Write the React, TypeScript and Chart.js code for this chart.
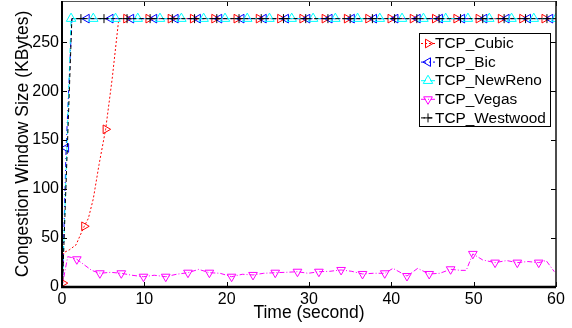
import { useEffect, useRef } from 'react';
import { Chart, registerables } from 'chart.js';

Chart.register(...registerables);

const FONT = "'Liberation Sans', Arial, Helvetica, sans-serif";

// ---------------- data ----------------
const seriesNames = ['TCP_Cubic', 'TCP_Bic', 'TCP_NewReno', 'TCP_Vegas', 'TCP_Westwood'];

const xTicks = [0, 10, 20, 30, 40, 50, 60];
const yTicks = [0, 50, 100, 150, 200, 250];

// TCP_Cubic
const cubicPathT = [0.1, 0.2, 0.9, 1.7, 2.7, 3.2, 3.8, 4.5, 5.3, 6.1, 6.9, 60];
const cubicPathY = [4, 35, 38, 43, 62, 70, 90, 125, 161, 213, 274, 274];
const cubicMarkT = [0.1, 2.7, 5.3, 7.8, 10.5, 13.2, 15.9, 18.5, 21.2, 23.9, 26.5, 29.2, 31.9, 34.6, 37.2, 39.9, 42.6, 45.3, 47.9, 50.6, 53.3, 55.9, 58.6];
const cubicMarkY = [4, 62, 161, 274, 274, 274, 274, 274, 274, 274, 274, 274, 274, 274, 274, 274, 274, 274, 274, 274, 274, 274, 274];

// TCP_Bic
const bicPathT = [0.05, 0.5, 1.2, 60];
const bicPathY = [0, 142, 274, 274];
const bicMarkT = [0.5, 3.0, 5.9, 8.4, 11.2, 13.8, 16.5, 19.1, 21.8, 24.5, 27.2, 29.8, 32.5, 35.2, 37.9, 40.5, 43.2, 45.9, 48.6, 51.3, 54.0, 56.6, 59.3];
const bicMarkY = [142, 274, 274, 274, 274, 274, 274, 274, 274, 274, 274, 274, 274, 274, 274, 274, 274, 274, 274, 274, 274, 274, 274];

// TCP_NewReno
const newRenoPathT = [0.05, 1.1, 60];
const newRenoPathY = [0, 274, 274];
const newRenoMarkT = [1.1, 3.8, 6.5, 9.2, 11.9, 14.5, 17.2, 19.8, 22.5, 25.2, 27.9, 30.5, 33.2, 35.9, 38.6, 41.3, 43.9, 46.6, 49.3, 51.9, 54.6, 57.3, 60.0];
const newRenoMarkY = [274, 274, 274, 274, 274, 274, 274, 274, 274, 274, 274, 274, 274, 274, 274, 274, 274, 274, 274, 274, 274, 274, 274];

// TCP_Vegas
const vegasPathT = [0, 0.1, 0.7, 1.2, 1.8, 2.8, 3.6, 4.6, 5.9, 7.2, 8.5, 9.9, 11.2, 12.6, 13.9, 15.3, 16.6, 17.9, 19.2, 20.6, 21.9, 23.2, 24.5, 25.9, 27.2, 28.6, 29.9, 31.2, 32.5, 33.9, 35.2, 36.5, 37.8, 39.2, 40.2, 41.9, 43.2, 44.6, 45.9, 47.2, 48.4, 49.1, 49.9, 51.1, 52.6, 54.0, 55.3, 56.6, 57.9, 58.8, 59.8];
const vegasPathY = [0, 5, 31, 30, 28.3, 22, 17, 14, 15, 14, 12, 10.5, 12, 10.5, 13, 14.6, 18, 14.6, 14, 10.5, 13, 12.3, 14, 14.6, 15, 15.6, 14, 15.6, 16, 17.4, 16, 13.3, 14, 14, 19, 11.2, 19, 13.3, 14, 18.1, 17, 17, 33.8, 27.6, 24.9, 27, 24.9, 26, 24.9, 27, 15.6];
const vegasMarkT = [1.8, 4.6, 7.2, 9.9, 12.6, 15.3, 17.9, 20.6, 23.2, 25.9, 28.6, 31.2, 33.9, 36.5, 39.2, 41.9, 44.6, 47.2, 49.9, 52.6, 55.3, 57.9];
const vegasMarkY = [28.3, 14, 14, 10.5, 10.5, 14.6, 14.6, 10.5, 12.3, 14.6, 15.6, 15.6, 17.4, 13.3, 14, 11.2, 13.3, 18.1, 33.8, 24.9, 24.9, 24.9];

// TCP_Westwood
const westwoodPathT = [0.05, 1.2, 60];
const westwoodPathY = [0, 274, 274];
const westwoodMarkT = [2.3, 5.1, 7.9, 10.7, 13.4, 16.1, 18.8, 21.5, 24.2, 26.9, 29.6, 32.3, 35.0, 37.7, 40.4, 43.1, 45.8, 48.4, 51.1, 53.7, 56.3, 58.9];
const westwoodMarkY = [274, 274, 274, 274, 274, 274, 274, 274, 274, 274, 274, 274, 274, 274, 274, 274, 274, 274, 274, 274, 274, 274];

// ---------------- styles ----------------
type Style = { color: string; dash: number[]; point: 'triangle' | 'cross'; rotation: number; radius: number };
const styles: Style[] = [
  { color: '#ff0000', dash: [2, 2], point: 'triangle', rotation: 90, radius: 5 },
  { color: '#0000ff', dash: [5, 3, 1, 3], point: 'triangle', rotation: 270, radius: 5 },
  { color: '#00ffff', dash: [5, 4], point: 'triangle', rotation: 0, radius: 5.5 },
  { color: '#ff00ff', dash: [5, 2, 1, 2], point: 'triangle', rotation: 180, radius: 5 },
  { color: '#000000', dash: [4, 3], point: 'cross', rotation: 0, radius: 4.5 },
];

const paths = [
  [cubicPathT, cubicPathY],
  [bicPathT, bicPathY],
  [newRenoPathT, newRenoPathY],
  [vegasPathT, vegasPathY],
  [westwoodPathT, westwoodPathY],
];
const marks = [
  [cubicMarkT, cubicMarkY],
  [bicMarkT, bicMarkY],
  [newRenoMarkT, newRenoMarkY],
  [vegasMarkT, vegasMarkY],
  [westwoodMarkT, westwoodMarkY],
];

const zip = (t: number[], y: number[]) => t.map((v, i) => ({ x: v, y: y[i] }));

function drawMarker(ctx: CanvasRenderingContext2D, s: Style, x: number, y: number) {
  ctx.save();
  ctx.strokeStyle = s.color;
  ctx.lineWidth = 1;
  ctx.setLineDash([]);
  ctx.beginPath();
  if (s.point === 'cross') {
    ctx.moveTo(x - s.radius, y);
    ctx.lineTo(x + s.radius, y);
    ctx.moveTo(x, y - s.radius);
    ctx.lineTo(x, y + s.radius);
  } else {
    let rad = (s.rotation * Math.PI) / 180;
    ctx.moveTo(x + Math.sin(rad) * s.radius, y - Math.cos(rad) * s.radius);
    rad += (2 * Math.PI) / 3;
    ctx.lineTo(x + Math.sin(rad) * s.radius, y - Math.cos(rad) * s.radius);
    rad += (2 * Math.PI) / 3;
    ctx.lineTo(x + Math.sin(rad) * s.radius, y - Math.cos(rad) * s.radius);
    ctx.closePath();
  }
  ctx.stroke();
  ctx.restore();
}

const framePlugin = {
  id: 'matlabFrame',
  afterDraw(chart: any) {
    const { ctx, chartArea } = chart;
    const { left, right, top, bottom } = chartArea;
    const xs = chart.scales.x;
    const ys = chart.scales.y;
    ctx.save();
    ctx.setLineDash([]);
    // inward ticks
    ctx.strokeStyle = '#000';
    ctx.lineWidth = 1;
    ctx.beginPath();
    xTicks.forEach((v) => {
      const px = Math.round(xs.getPixelForValue(v)) + 0.5;
      ctx.moveTo(px, bottom);
      ctx.lineTo(px, bottom - 5);
      ctx.moveTo(px, top);
      ctx.lineTo(px, top + 5);
    });
    yTicks.forEach((v) => {
      const py = Math.round(ys.getPixelForValue(v)) + 0.5;
      ctx.moveTo(left, py);
      ctx.lineTo(left + 5, py);
      ctx.moveTo(right, py);
      ctx.lineTo(right - 5, py);
    });
    ctx.stroke();
    // frame
    ctx.strokeStyle = '#555';
    ctx.lineWidth = 1;
    ctx.beginPath();
    ctx.moveTo(left, top + 0.5);
    ctx.lineTo(right, top + 0.5);
    ctx.stroke();
    ctx.strokeStyle = '#111';
    ctx.lineWidth = 1.5;
    ctx.beginPath();
    ctx.moveTo(right, top);
    ctx.lineTo(right, bottom);
    ctx.stroke();
    ctx.strokeStyle = '#000';
    ctx.lineWidth = 2;
    ctx.beginPath();
    ctx.moveTo(left, top);
    ctx.lineTo(left, bottom + 1);
    ctx.stroke();
    ctx.lineWidth = 2.5;
    ctx.beginPath();
    ctx.moveTo(left - 1, bottom);
    ctx.lineTo(right, bottom);
    ctx.stroke();

    // legend
    const bx = 419.5, by = 33.5, bw = 131, bh = 93;
    ctx.fillStyle = '#fff';
    ctx.fillRect(bx, by, bw, bh);
    ctx.strokeStyle = '#000';
    ctx.lineWidth = 1;
    ctx.strokeRect(bx, by, bw, bh);
    ctx.font = `15.4px ${FONT}`;
    ctx.textBaseline = 'middle';
    ctx.textAlign = 'left';
    seriesNames.forEach((name, i) => {
      const s = styles[i];
      const cy = 43.5 + i * 18.6;
      ctx.strokeStyle = s.color;
      ctx.lineWidth = 1;
      ctx.setLineDash(s.dash);
      ctx.beginPath();
      ctx.moveTo(421, cy);
      ctx.lineTo(435, cy);
      ctx.stroke();
      ctx.setLineDash([]);
      drawMarker(ctx, s, 428, cy);
      ctx.fillStyle = '#000';
      ctx.fillText(name, 435, cy + 0.5);
    });
    ctx.restore();
  },
};

export default function App() {
  const ref = useRef<HTMLCanvasElement | null>(null);
  useEffect(() => {
    if (!ref.current) return;
    const lineSets = seriesNames.map((name, i) => ({
      label: name,
      data: zip(paths[i][0], paths[i][1]),
      borderColor: styles[i].color,
      borderWidth: 1,
      borderDash: styles[i].dash,
      pointRadius: 0,
      fill: false,
      tension: 0,
      order: 10 - i * 2,
    }));
    const markSets = seriesNames.map((name, i) => ({
      label: name + ' markers',
      data: zip(marks[i][0], marks[i][1]),
      showLine: false,
      borderColor: styles[i].color,
      backgroundColor: 'rgba(0,0,0,0)',
      pointStyle: styles[i].point,
      rotation: styles[i].rotation,
      pointRadius: styles[i].radius,
      pointBorderWidth: 1,
      pointBorderColor: styles[i].color,
      pointBackgroundColor: 'rgba(0,0,0,0)',
      order: 9 - i * 2,
    }));
    const chart = new Chart(ref.current, {
      type: 'line',
      data: { datasets: [...lineSets, ...markSets] as any },
      options: {
        animation: false,
        responsive: false,
        devicePixelRatio: 1,
        layout: { autoPadding: false, padding: { left: 0, right: 16, top: 1, bottom: 0 } },
        plugins: { legend: { display: false }, tooltip: { enabled: false } },
        scales: {
          x: {
            type: 'linear',
            min: 0,
            max: 60,
            afterFit: (s: any) => {
              s.height = 41;
              s.paddingLeft = 0;
              s.paddingRight = 0;
              s.paddingTop = 0;
              s.paddingBottom = 0;
            },
            grid: { display: false, drawTicks: false },
            border: { display: false },
            ticks: {
              stepSize: 10,
              padding: 3,
              color: '#000',
              font: { family: FONT, size: 16 },
            },
            title: {
              display: true,
              text: 'Time (second)',
              color: '#000',
              font: { family: FONT, size: 17.5 },
              padding: { top: 0, bottom: 4 },
            },
          },
          y: {
            type: 'linear',
            min: 0,
            max: 292,
            afterFit: (s: any) => {
              s.width = 62;
              s.paddingLeft = 0;
              s.paddingRight = 0;
              s.paddingTop = 0;
              s.paddingBottom = 0;
            },
            grid: { display: false, drawTicks: false },
            border: { display: false },
            ticks: {
              stepSize: 50,
              includeBounds: false,
              padding: 3,
              color: '#000',
              font: { family: FONT, size: 16 },
            },
            title: {
              display: true,
              text: 'Congestion Window Size (KBytes)',
              color: '#000',
              font: { family: FONT, size: 17.5 },
              padding: { top: 12.5, bottom: 0 },
            },
          },
        },
      },
      plugins: [framePlugin],
    });
    return () => chart.destroy();
  }, []);
  return (
    <div style={{ position: 'fixed', left: 0, top: 0, width: 572, height: 328, background: '#fff' }}>
      <canvas ref={ref} width={572} height={328} />
    </div>
  );
}
